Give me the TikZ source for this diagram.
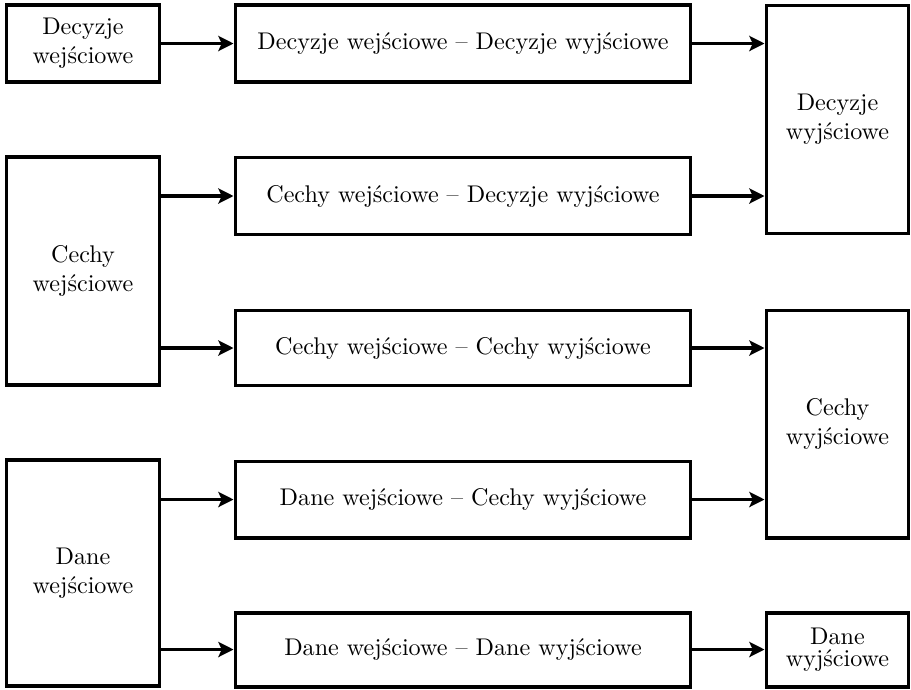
\documentclass[tikz,border=0pt]{standalone}
\usepackage{tikz}
\usetikzlibrary{arrows.meta}
\tikzset{
	blok/.style={draw,line width=1.7pt,align=center,inner sep=2pt,font=\fontsize{10.3}{12.4}\selectfont},
	strz/.style={line width=1.3pt,-{Stealth[length=6.5pt,width=6.5pt,inset=1.5pt]}},
}

\begin{document}
\begin{tikzpicture}[x=0.015cm,y=-0.015cm]
			% unit = one pixel of the layout
			\def\u{0.015cm}
			\useasboundingbox (0,0) rectangle (911,689);

			% input column
			\node[blok,minimum width=153*\u,minimum height=77*\u] (dwe) at (83,43.5) {Decyzje\\wejściowe};
			\node[blok,minimum width=153*\u,minimum height=228*\u] (cwe) at (83,271) {Cechy\\wejściowe};
			\node[blok,minimum width=153*\u,minimum height=226*\u] (nwe) at (83,573) {Dane\\wejściowe};

			% middle column
			\node[blok,minimum width=455*\u,minimum height=77*\u] (dd) at (463,43.5) {Decyzje wejściowe -- Decyzje wyjściowe};
			\node[blok,minimum width=455*\u,minimum height=77*\u] (cd) at (463,196) {Cechy wejściowe -- Decyzje wyjściowe};
			\node[blok,minimum width=455*\u,minimum height=75*\u] (cc) at (463,348) {Cechy wejściowe -- Cechy wyjściowe};
			\node[blok,minimum width=455*\u,minimum height=76*\u] (nc) at (463,499.5) {Dane wejściowe -- Cechy wyjściowe};
			\node[blok,minimum width=455*\u,minimum height=74*\u] (nn) at (463,649.5) {Dane wejściowe -- Dane wyjściowe};

			% output column
			\node[blok,minimum width=142*\u,minimum height=228*\u] (dwy) at (837.5,119.5) {Decyzje\\wyjściowe};
			\node[blok,minimum width=142*\u,minimum height=227*\u] (cwy) at (837.5,424) {Cechy\\wyjściowe};
			\node[blok,minimum width=142*\u,minimum height=74*\u] (nwy) at (837.5,649.5) {Dane\\[-3pt]wyjściowe};

			% arrows in
			\draw[strz] (dwe.east) -- (dd.west);
			\draw[strz] (cd.west -| cwe.east) -- (cd.west);
			\draw[strz] (cc.west -| cwe.east) -- (cc.west);
			\draw[strz] (nc.west -| nwe.east) -- (nc.west);
			\draw[strz] (nn.west -| nwe.east) -- (nn.west);

			% arrows out
			\draw[strz] (dd.east) -- (dd.east -| dwy.west);
			\draw[strz] (cd.east) -- (cd.east -| dwy.west);
			\draw[strz] (cc.east) -- (cc.east -| cwy.west);
			\draw[strz] (nc.east) -- (nc.east -| cwy.west);
			\draw[strz] (nn.east) -- (nwy.west);

\end{tikzpicture}
\end{document}
